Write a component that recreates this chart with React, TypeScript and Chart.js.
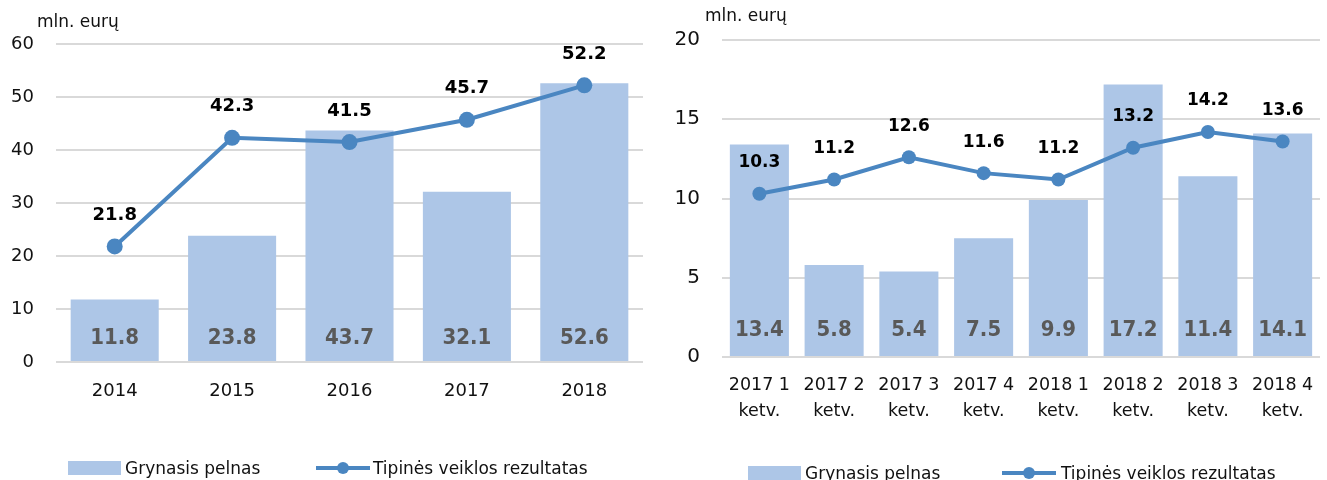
import React, { useEffect, useRef } from "react";
import { Chart, registerables } from "chart.js";
Chart.register(...registerables);

// ---------- data ----------
const unitLabel = "mln. eurų";
const seriesNames = ["Grynasis pelnas", "Tipinės veiklos rezultatas"];

const yearLabels = ["2014", "2015", "2016", "2017", "2018"];
const yearNetProfit = [11.8, 23.8, 43.7, 32.1, 52.6];
const yearOperating = [21.8, 42.3, 41.5, 45.7, 52.2];
const yearTicks = [0, 10, 20, 30, 40, 50, 60];

const quarterLabels = [
  ["2017 1", "ketv."],
  ["2017 2", "ketv."],
  ["2017 3", "ketv."],
  ["2017 4", "ketv."],
  ["2018 1", "ketv."],
  ["2018 2", "ketv."],
  ["2018 3", "ketv."],
  ["2018 4", "ketv."],
];
const quarterNetProfit = [13.4, 5.8, 5.4, 7.5, 9.9, 17.2, 11.4, 14.1];
const quarterOperating = [10.3, 11.2, 12.6, 11.6, 11.2, 13.2, 14.2, 13.6];
const quarterTicks = [0, 5, 10, 15, 20];

// ---------- styles ----------
const BAR = "#ADC6E7";
const LINE = "#4A86C1";
const GRID = "#D9D9D9";
const FONT = "'DejaVu Sans', sans-serif";
const COND = "'DejaVu Sans Condensed', 'DejaVu Sans', sans-serif";

type PanelOpts = {
  width: number;
  labels: any[];
  bars: number[];
  line: number[];
  ticks: number[];
  top: number;
  right: number;
  yWidth: number;
  xHeight: number;
  yFont: number;
  xFont: number;
  xPad: number;
  barPct: number;
  pointRadius: number;
  lineFont: number;
  barLabelOffset: number;
  lineLabelOffset: number;
  titleX: number;
  titleY: number;
  legendBarX: number;
  legendTextX1: number;
  legendLineX: number;
  legendTextX2: number;
  legendY: number;
  legendBaseline: number;
};

function makeConfig(o: PanelOpts): any {
  const overlay = {
    id: "overlay",
    afterDatasetsDraw(chart: any) {
      const ctx = chart.ctx;
      const area = chart.chartArea;
      const lineMeta = chart.getDatasetMeta(0);
      const barMeta = chart.getDatasetMeta(1);
      ctx.save();
      ctx.textAlign = "center";
      ctx.textBaseline = "middle";
      ctx.font = `bold 22px ${COND}`;
      ctx.fillStyle = "#595959";
      barMeta.data.forEach((el: any, i: number) => {
        ctx.fillText(o.bars[i].toFixed(1), el.x, area.bottom - o.barLabelOffset);
      });
      ctx.font = `bold ${o.lineFont}px ${FONT}`;
      ctx.fillStyle = "#000";
      lineMeta.data.forEach((el: any, i: number) => {
        ctx.fillText(o.line[i].toFixed(1), el.x, el.y - o.lineLabelOffset);
      });
      ctx.restore();
    },
    afterDraw(chart: any) {
      const ctx = chart.ctx;
      ctx.save();
      // unit title
      ctx.font = `17px ${FONT}`;
      ctx.fillStyle = "#111";
      ctx.textAlign = "left";
      ctx.textBaseline = "alphabetic";
      ctx.fillText(unitLabel, o.titleX, o.titleY);
      // legend
      ctx.fillStyle = BAR;
      ctx.fillRect(o.legendBarX, o.legendY - 7, 53, 14);
      ctx.strokeStyle = LINE;
      ctx.lineWidth = 4;
      ctx.beginPath();
      ctx.moveTo(o.legendLineX, o.legendY);
      ctx.lineTo(o.legendLineX + 54, o.legendY);
      ctx.stroke();
      ctx.fillStyle = LINE;
      ctx.beginPath();
      ctx.arc(o.legendLineX + 27, o.legendY, 6, 0, Math.PI * 2);
      ctx.fill();
      ctx.font = `17px ${FONT}`;
      ctx.fillStyle = "#111";
      ctx.fillText(seriesNames[0], o.legendTextX1, o.legendBaseline);
      ctx.fillText(seriesNames[1], o.legendTextX2, o.legendBaseline);
      ctx.restore();
    },
  };

  return {
    type: "bar",
    data: {
      labels: o.labels,
      datasets: [
        {
          type: "line",
          label: seriesNames[1],
          data: o.line,
          borderColor: LINE,
          backgroundColor: LINE,
          borderWidth: 4,
          pointRadius: o.pointRadius,
          pointBackgroundColor: LINE,
          pointBorderWidth: 0,
          tension: 0,
          order: 0,
        },
        {
          type: "bar",
          label: seriesNames[0],
          data: o.bars,
          backgroundColor: BAR,
          barPercentage: o.barPct,
          categoryPercentage: 1,
          order: 1,
        },
      ],
    },
    options: {
      animation: false,
      responsive: false,
      layout: { padding: { top: o.top, right: o.right, left: 0, bottom: 0 } },
      plugins: { legend: { display: false }, tooltip: { enabled: false } },
      scales: {
        x: {
          grid: { display: false },
          border: { display: false },
          ticks: {
            font: { family: FONT, size: o.xFont, lineHeight: 1.5 },
            color: "#111",
            padding: o.xPad,
            maxRotation: 0,
            autoSkip: false,
          },
          afterFit: (s: any) => {
            s.height = o.xHeight;
          },
        },
        y: {
          min: o.ticks[0],
          max: o.ticks[o.ticks.length - 1],
          afterBuildTicks: (s: any) => {
            s.ticks = o.ticks.map((v) => ({ value: v }));
          },
          grid: { color: GRID, lineWidth: 2, drawTicks: false },
          border: { display: false },
          ticks: {
            font: { family: FONT, size: o.yFont },
            color: "#111",
            padding: 22,
          },
          afterFit: (s: any) => {
            s.width = o.yWidth;
          },
        },
      },
    },
    plugins: [overlay],
  };
}

function Panel({ o, left }: { o: PanelOpts; left: number }) {
  const ref = useRef<HTMLCanvasElement>(null);
  useEffect(() => {
    if (!ref.current) return;
    const chart = new Chart(ref.current, makeConfig(o));
    return () => chart.destroy();
  }, []);
  return (
    <canvas
      ref={ref}
      width={o.width}
      height={480}
      style={{ position: "absolute", left, top: 0, width: o.width, height: 480 }}
    />
  );
}

const leftOpts: PanelOpts = {
  width: 655,
  labels: yearLabels,
  bars: yearNetProfit,
  line: yearOperating,
  ticks: yearTicks,
  top: 44,
  right: 12,
  yWidth: 56,
  xHeight: 118,
  yFont: 18,
  xFont: 18,
  xPad: 8,
  barPct: 0.75,
  pointRadius: 8,
  lineFont: 18,
  barLabelOffset: 24,
  lineLabelOffset: 31,
  titleX: 37,
  titleY: 27,
  legendBarX: 68,
  legendTextX1: 125,
  legendLineX: 316,
  legendTextX2: 373,
  legendY: 468,
  legendBaseline: 474,
};

const rightOpts: PanelOpts = {
  width: 667,
  labels: quarterLabels,
  bars: quarterNetProfit,
  line: quarterOperating,
  ticks: quarterTicks,
  top: 40,
  right: 0,
  yWidth: 62,
  xHeight: 123,
  yFont: 20,
  xFont: 17.5,
  xPad: 7,
  barPct: 0.79,
  pointRadius: 7,
  lineFont: 17,
  barLabelOffset: 27,
  lineLabelOffset: 31,
  titleX: 45,
  titleY: 21,
  legendBarX: 88,
  legendTextX1: 145,
  legendLineX: 342,
  legendTextX2: 401,
  legendY: 473,
  legendBaseline: 479,
};

export default function App() {
  useEffect(() => {
    document.body.style.margin = "0";
  }, []);
  return (
    <div style={{ position: "relative", width: 1327, height: 480, background: "#fff", overflow: "hidden" }}>
      <Panel o={leftOpts} left={0} />
      <Panel o={rightOpts} left={660} />
    </div>
  );
}
